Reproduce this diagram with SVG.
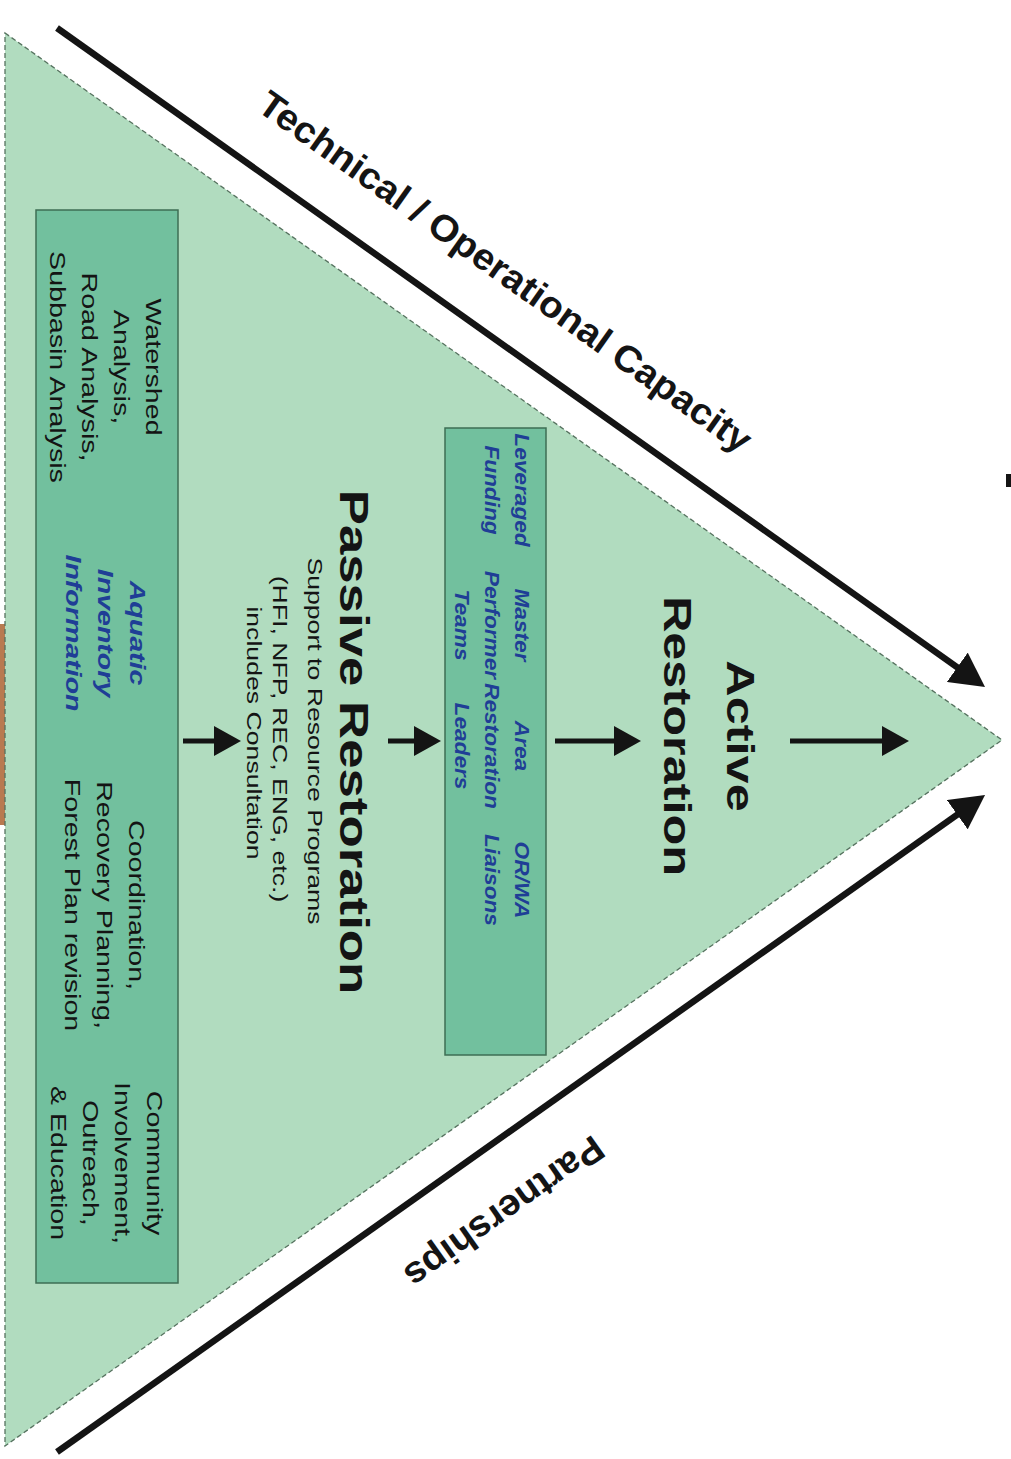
<svg xmlns="http://www.w3.org/2000/svg" width="1011" height="1459" viewBox="0 0 1011 1459">
<defs>
<style>
.t{font-family:"Liberation Sans",Arial,sans-serif;fill:#141414;}
.n{font-size:22.5px;}
.bi{font-size:22.5px;font-weight:bold;font-style:italic;fill:#1f3e96;}
.mb{font-size:21px;font-weight:bold;font-style:italic;fill:#1f3e96;}
.big{font-size:40px;font-weight:bold;}
.sub{font-size:20.5px;}
.lab{font-size:37px;font-weight:bold;}
.box{fill:#72c09e;stroke:#3e6e54;stroke-width:1.5;}
.flow{stroke:#141414;stroke-width:5;fill:none;}
.cap{stroke:#141414;stroke-width:6.5;fill:none;}
</style>
<marker id="bigHead" markerUnits="userSpaceOnUse" markerWidth="36" markerHeight="36" refX="19" refY="18" orient="auto" viewBox="0 0 36 36"><path d="M0,0 L34,18 L0,36 Z" fill="#141414"/></marker>
<marker id="head" markerUnits="userSpaceOnUse" markerWidth="28" markerHeight="30" refX="12" refY="15" orient="auto" viewBox="0 0 28 30"><path d="M0,0 L27,15 L0,30 Z" fill="#141414"/></marker>
</defs>
<rect width="1011" height="1459" fill="#ffffff"/>
<rect x="0" y="624" width="5" height="201" fill="#b87a50"/>
<rect x="1006" y="474" width="5" height="13" fill="#141414"/>
<g id="triangle">
<polygon points="5,33 1002,740 5,1446" fill="#b1dcbf" stroke="#56725f" stroke-width="1.3" stroke-dasharray="5,3"/>
</g>
<g id="connectors">
<line class="cap" x1="57" y1="28" x2="972.8" y2="678.3" marker-end="url(#bigHead)"/>
<line class="cap" x1="57" y1="1452" x2="972.8" y2="803.7" marker-end="url(#bigHead)"/>
<line class="flow" x1="183" y1="741" x2="226" y2="741" marker-end="url(#head)"/>
<line class="flow" x1="388" y1="741" x2="426" y2="741" marker-end="url(#head)"/>
<line class="flow" x1="555" y1="741" x2="626" y2="741" marker-end="url(#head)"/>
<line class="flow" x1="790" y1="741" x2="894" y2="741" marker-end="url(#head)"/>
</g>
<g id="technical-label">
<text class="t lab" transform="translate(498,282) rotate(35.4)" text-anchor="middle" textLength="595" lengthAdjust="spacingAndGlyphs">Technical / Operational Capacity</text>
</g>
<g id="partnerships-label">
<text class="t lab" transform="translate(497,1202) rotate(144.6)" text-anchor="middle" textLength="235" lengthAdjust="spacingAndGlyphs">Partnerships</text>
</g>
<g id="foundation-box">
<rect class="box" x="36" y="210" width="142" height="1073"/>
<text class="t n" transform="translate(146,367) rotate(90) scale(1.27,1)" text-anchor="middle"><tspan x="0" y="0">Watershed</tspan><tspan x="0" dy="32">Analysis,</tspan><tspan x="0" dy="32">Road Analysis,</tspan><tspan x="0" dy="32">Subbasin Analysis</tspan></text>
<text class="t bi" transform="translate(130,633) rotate(90) scale(1.27,1)" text-anchor="middle"><tspan x="0" y="0">Aquatic</tspan><tspan x="0" dy="32">Inventory</tspan><tspan x="0" dy="32">Information</tspan></text>
<text class="t n" transform="translate(129,905) rotate(90) scale(1.27,1)" text-anchor="middle"><tspan x="0" y="0">Coordination,</tspan><tspan x="0" dy="32">Recovery Planning,</tspan><tspan x="0" dy="32">Forest Plan revision</tspan></text>
<text class="t n" transform="translate(147,1163) rotate(90) scale(1.27,1)" text-anchor="middle"><tspan x="0" y="0">Community</tspan><tspan x="0" dy="32">Involvement,</tspan><tspan x="0" dy="32">Outreach,</tspan><tspan x="0" dy="32">&amp; Education</tspan></text>
</g>
<g id="passive-restoration">
<text class="t big" transform="translate(340,742) rotate(90) scale(1.32,1)" text-anchor="middle">Passive Restoration</text>
<text class="t sub" transform="translate(308,741) rotate(90) scale(1.3,1)" text-anchor="middle">Support to Resource Programs</text>
<text class="t sub" transform="translate(273,739) rotate(90) scale(1.3,1)" text-anchor="middle">(HFI, NFP, REC, ENG, etc.)</text>
<text class="t sub" transform="translate(247,733) rotate(90) scale(1.3,1)" text-anchor="middle">includes Consultation</text>
</g>
<g id="programs-box">
<rect class="box" x="445" y="428" width="101" height="627"/>
<text class="t mb" transform="translate(515,490) rotate(90) scale(1.08,1)" text-anchor="middle"><tspan x="0" y="0">Leveraged</tspan><tspan x="0" dy="30">Funding</tspan></text>
<text class="t mb" transform="translate(515,625) rotate(90) scale(1.08,1)" text-anchor="middle"><tspan x="0" y="0">Master</tspan><tspan x="0" dy="30">Performer</tspan><tspan x="0" dy="30">Teams</tspan></text>
<text class="t mb" transform="translate(515,746) rotate(90) scale(1.08,1)" text-anchor="middle"><tspan x="0" y="0">Area</tspan><tspan x="0" dy="30">Restoration</tspan><tspan x="0" dy="30">Leaders</tspan></text>
<text class="t mb" transform="translate(515,880) rotate(90) scale(1.08,1)" text-anchor="middle"><tspan x="0" y="0">OR/WA</tspan><tspan x="0" dy="30">Liaisons</tspan></text>
</g>
<g id="active-restoration">
<text class="t big" style="font-size:38.5px" transform="translate(727,736) rotate(90) scale(1.31,1)" text-anchor="middle"><tspan x="0" y="0">Active</tspan><tspan x="0" dy="63">Restoration</tspan></text>
</g>
</svg>
